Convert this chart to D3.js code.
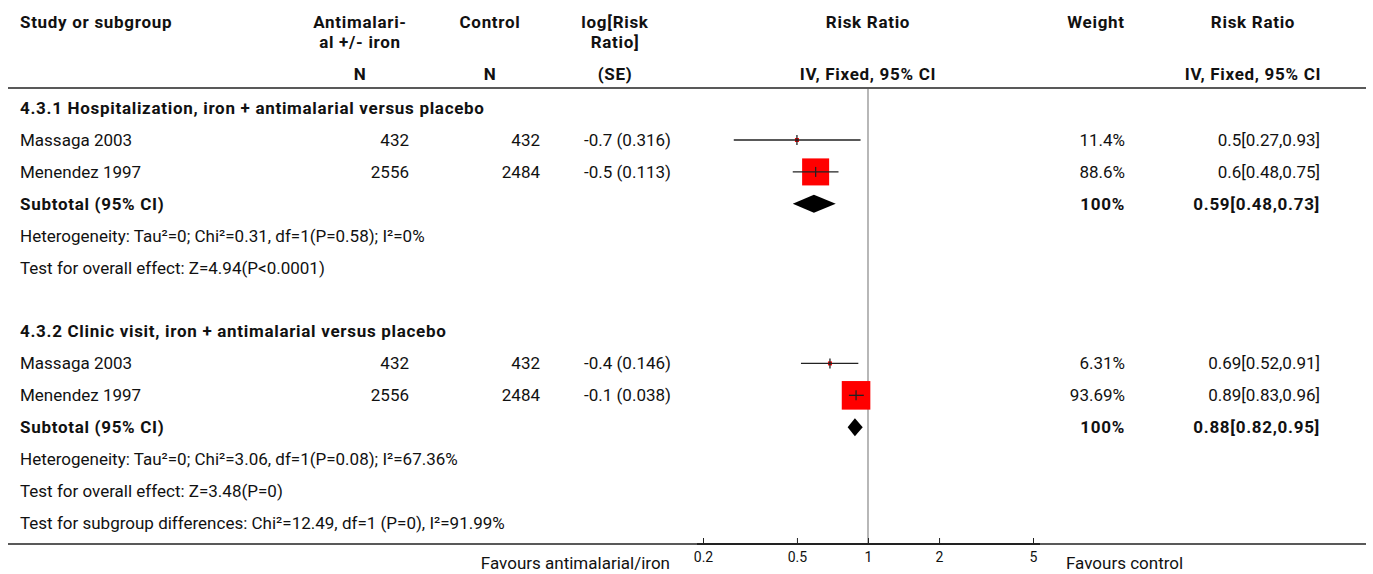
<!DOCTYPE html>
<html>
<head>
<meta charset="utf-8">
<script src="https://cdn.jsdelivr.net/npm/d3@7"></script>
<style>
  body { margin: 0; background: #fff; }
  svg text { font-family: Roboto, "Noto Sans", sans-serif; fill: #111; }
</style>
</head>
<body>
<div id="chart"></div>
<script>
// --- data ---
const groupNames = ["4.3.1 Hospitalization, iron + antimalarial versus placebo",
                    "4.3.2 Clinic visit, iron + antimalarial versus placebo"];
const studies = ["Massaga 2003", "Menendez 1997", "Massaga 2003", "Menendez 1997"];
const studyGroup = [0, 0, 1, 1];
const nTreat = [432, 2556, 432, 2556];
const nCtrl = [432, 2484, 432, 2484];
const logEst = [-0.7, -0.5, -0.4, -0.1];
const logSE = [0.316, 0.113, 0.146, 0.038];
const rr = [0.5, 0.6, 0.69, 0.89];
const rrLo = [0.27, 0.48, 0.52, 0.83];
const rrHi = [0.93, 0.75, 0.91, 0.96];
const weights = [11.4, 88.6, 6.31, 93.69];
const subRR = [0.59, 0.88];
const subLo = [0.48, 0.82];
const subHi = [0.73, 0.95];
const hetText = ["Heterogeneity: Tau²=0; Chi²=0.31, df=1(P=0.58); I²=0%",
                 "Heterogeneity: Tau²=0; Chi²=3.06, df=1(P=0.08); I²=67.36%"];
const effectText = ["Test for overall effect: Z=4.94(P<0.0001)",
                    "Test for overall effect: Z=3.48(P=0)"];
const subgroupDiff = "Test for subgroup differences: Chi²=12.49, df=1 (P=0), I²=91.99%";
const tickValues = [0.2, 0.5, 1, 2, 5];

const width = 1373, height = 574;
const svg = d3.select("#chart").append("svg")
    .attr("width", width).attr("height", height);

const x = d3.scaleLog().domain([0.2, 5]).range([703, 1033]);
const rowY = d3.scaleLinear().domain([1, 13]).range([140, 523]);
const fs = 17;

function txt(xp, yp, s, anchor, bold, size) {
    return svg.append("text")
        .attr("x", xp).attr("y", yp).attr("dy", "0.35em")
        .attr("text-anchor", anchor || "start")
        .style("font-size", (size || fs) + "px")
        .style("font-weight", bold ? "bold" : "normal")
        .style("letter-spacing", bold ? "0.7px" : null)
        .text(s);
}

// header
txt(20, 22, "Study or subgroup", "start", true);
txt(360, 22, "Antimalari-", "middle", true);
txt(360, 42, "al +/- iron", "middle", true);
txt(490, 22, "Control", "middle", true);
txt(615, 22, "log[Risk", "middle", true);
txt(615, 42, "Ratio]", "middle", true);
txt(868, 22, "Risk Ratio", "middle", true);
txt(1096, 22, "Weight", "middle", true);
txt(1253, 22, "Risk Ratio", "middle", true);
txt(360, 74, "N", "middle", true);
txt(490, 74, "N", "middle", true);
txt(615, 74, "(SE)", "middle", true);
txt(868, 74, "IV, Fixed, 95% CI", "middle", true);
txt(1253, 74, "IV, Fixed, 95% CI", "middle", true);

svg.append("line").attr("x1", 8).attr("x2", 1366).attr("y1", 88).attr("y2", 88)
    .attr("stroke", "#222").attr("stroke-width", 1.5);

// null line
svg.append("line").attr("x1", x(1)).attr("x2", x(1)).attr("y1", 89).attr("y2", 544)
    .attr("stroke", "#888").attr("stroke-width", 1.2);

const sizeScale = d3.scaleLinear().domain([0, 100]).range([0, 30.5]);

groupNames.forEach(function(g, gi) {
    const base = gi * 7;
    txt(20, rowY(base), g, "start", true);
    const idx = d3.range(studies.length).filter(i => studyGroup[i] === gi);
    idx.forEach(function(i, k) {
        const y = rowY(base + 1 + k);
        txt(20, y, studies[i]);
        txt(409, y, nTreat[i], "end");
        txt(540, y, nCtrl[i], "end");
        txt(671, y, logEst[i] + " (" + logSE[i] + ")", "end");
        txt(1125, y, weights[i] + "%", "end");
        txt(1320, y, rr[i] + "[" + rrLo[i] + "," + rrHi[i] + "]", "end");
        const s = Math.max(4, sizeScale(weights[i]));
        svg.append("rect")
            .attr("x", x(rr[i]) - s / 2).attr("y", y - s / 2)
            .attr("width", s).attr("height", s)
            .attr("fill", "#ff0000");
        svg.append("line")
            .attr("x1", x(rrLo[i])).attr("x2", x(rrHi[i]))
            .attr("y1", y).attr("y2", y)
            .attr("stroke", "#222").attr("stroke-width", 1.3);
        svg.append("line")
            .attr("x1", x(rr[i])).attr("x2", x(rr[i]))
            .attr("y1", y - 5).attr("y2", y + 5)
            .attr("stroke", "#222").attr("stroke-width", 1.3);
    });
    const ys = rowY(base + 3);
    txt(20, ys, "Subtotal (95% CI)", "start", true);
    txt(1125, ys, "100%", "end", true);
    txt(1320, ys, subRR[gi] + "[" + subLo[gi] + "," + subHi[gi] + "]", "end", true);
    svg.append("path")
        .attr("d", "M" + x(subLo[gi]) + "," + ys + "L" + x(subRR[gi]) + "," + (ys - 9) +
                   "L" + x(subHi[gi]) + "," + ys + "L" + x(subRR[gi]) + "," + (ys + 9) + "Z")
        .attr("fill", "#000");
    txt(20, rowY(base + 4), hetText[gi]);
    txt(20, rowY(base + 5), effectText[gi]);
});
txt(20, rowY(13), subgroupDiff);

// bottom axis
svg.append("line").attr("x1", 8).attr("x2", 1366).attr("y1", 544).attr("y2", 544)
    .attr("stroke", "#222").attr("stroke-width", 1.5);
const axis = svg.append("g").attr("transform", "translate(0,544)")
    .call(d3.axisTop(x).tickValues(tickValues).tickFormat(d3.format("")).tickSize(6).tickPadding(-24));
axis.select(".domain").attr("stroke", "#222").attr("stroke-width", 2)
    .attr("d", "M697,0H1040");
axis.selectAll(".tick line").attr("stroke", "#222");
axis.selectAll(".tick text").style("font-size", "14px").style("font-family", "Roboto, sans-serif")
    .attr("fill", "#111");

txt(670, 563, "Favours antimalarial/iron", "end");
txt(1066, 563, "Favours control", "start");
</script>
</body>
</html>
